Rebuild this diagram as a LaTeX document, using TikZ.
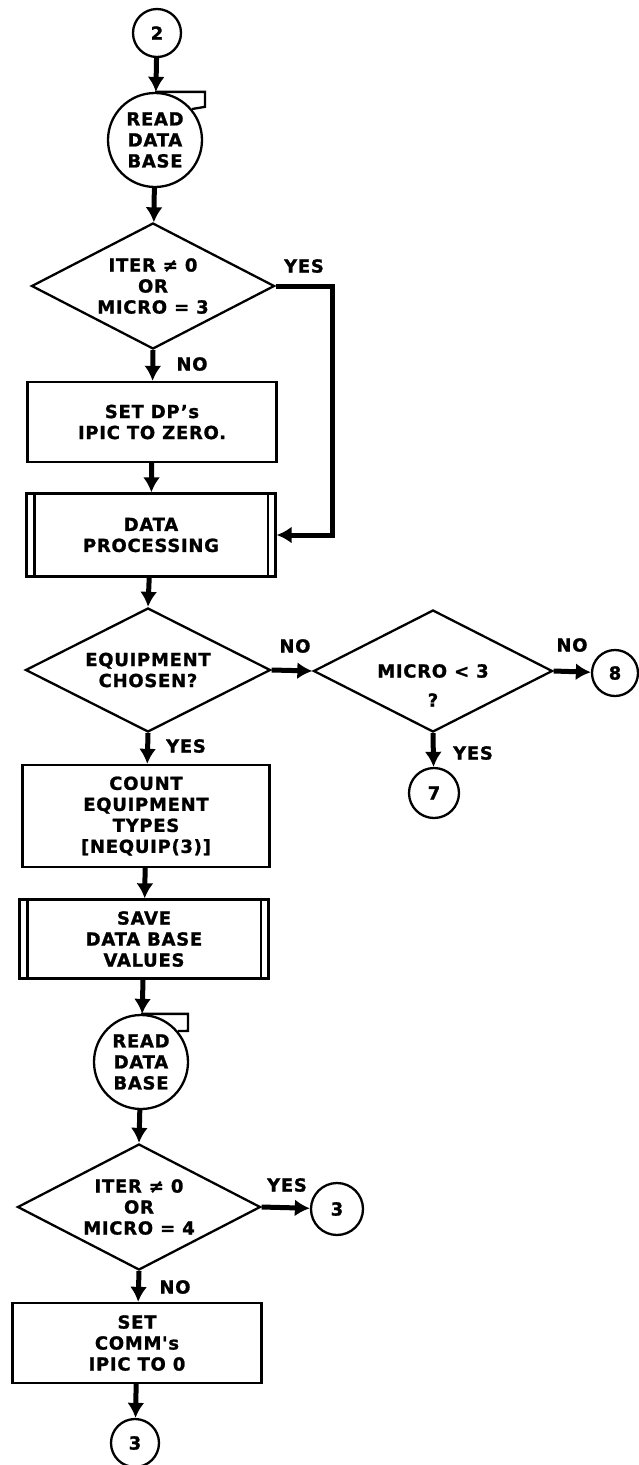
\documentclass[tikz,border=0pt]{standalone}
\usepackage{fontspec}
\newfontfamily\flowfont[LetterSpace=4,BoldFeatures={FakeBold=1.2}]{DejaVu Sans}
\usetikzlibrary{shapes.geometric,arrows.meta}

\begin{document}
\begin{tikzpicture}[x=1pt,y=-1pt,>={Latex[length=15pt,width=17pt]},
  font=\flowfont\bfseries\fontsize{18}{21}\selectfont,
  conn/.style={circle,draw,line width=2.3pt,minimum size=48pt,inner sep=0pt},
  readdb/.style={circle,draw,line width=2.3pt,minimum size=94pt,inner sep=0pt,align=center},
  decide/.style={diamond,aspect=2,draw,line width=2.3pt,inner sep=0pt,align=center,minimum width=243pt,minimum height=126pt},
  proc/.style={rectangle,draw,line width=2.3pt,inner sep=0pt,align=center,minimum width=249pt,minimum height=80pt},
  flow/.style={->,line width=5pt}]
 \useasboundingbox (0,0) rectangle (638,1465);

 \node[conn] (c2) at (157,33) {2};
 \node[readdb] (rd1) at (155,140) {READ\\DATA\\BASE};
 \draw[line width=2.3pt] (rd1.north) -- ++(50,0) -- ++(0,15) -- (rd1.40);
 \node[decide] (d1) at (153,286) {ITER ≠ 0\\OR\\MICRO = 3};
 \node[proc] (setdp) at (152,422) {SET DP’s\\IPIC TO ZERO.};
 \node[proc,minimum height=83pt] (dp) at (151,535) {DATA\\PROCESSING};
 \node[decide,minimum width=245pt,minimum height=124pt] (equip) at (148,670) {EQUIPMENT\\CHOSEN?};
 \node[decide,minimum width=239pt,minimum height=122pt,label={[yshift=-29pt]center:?}] (micro) at (433,671) {MICRO < 3};
 \node[conn,minimum size=46pt] (c8) at (615,673) {8};
 \node[conn,minimum size=50pt] (c7) at (434,793) {7};
 \node[proc,minimum width=247pt,minimum height=102pt] (count) at (146,816) {COUNT\\EQUIPMENT\\TYPES\\{[NEQUIP(3)]}};
 \node[proc,minimum height=79pt] (save) at (144,939) {SAVE\\DATA BASE\\VALUES};
 \node[readdb] (rd2) at (141,1062) {READ\\DATA\\BASE};
 \draw[line width=2.3pt] (rd2.north) -- ++(47,0) -- ++(0,17) -- (rd2.40);
 \node[decide] (d2) at (139,1207) {ITER ≠ 0\\OR\\MICRO = 4};
 \node[conn,minimum size=52pt] (c3a) at (337,1209) {3};
 \node[proc] (comm) at (137,1343) {SET\\COMM's\\IPIC TO 0};
 \node[conn] (c3b) at (135,1443) {3};

 % double sides of the predefined processes
 \foreach \n in {dp,save} {
  \draw[line width=2.3pt] ([xshift=9pt]\n.north west) -- ([xshift=9pt]\n.south west);
  \draw[line width=2.3pt] ([xshift=-9pt]\n.north east) -- ([xshift=-9pt]\n.south east);
 }

 \node (yes1) at (304,266) {YES};
 \node (no1) at (192,364) {NO};
 \node (no2) at (295,646) {NO};
 \node (yes2) at (186,746) {YES};
 \node (no3) at (572,645) {NO};
 \node (yes3) at (473,753) {YES};
 \node (yes4) at (287,1185) {YES};
 \node (no4) at (175,1287) {NO};

 \draw[flow] (c2) -- (rd1);
 \draw[flow] (rd1) -- (d1);
 \draw[flow] (d1.south) -- (setdp);
 \draw[flow] (d1.east) -- ++(57,0) |- (dp.east);
 \draw[flow] (setdp) -- (dp);
 \draw[flow] (dp) -- (equip.north);
 \draw[flow] (equip.east) -- (micro.west);
 \draw[flow] (micro.east) -- (c8);
 \draw[flow] (micro.south) -- (c7);
 \draw[flow] (equip.south) -- (count);
 \draw[flow] (count) -- (save);
 \draw[flow] (save) -- (rd2);
 \draw[flow] (rd2) -- (d2.north);
 \draw[flow] (d2.east) -- (c3a);
 \draw[flow] (d2.south) -- (comm);
 \draw[flow] (comm) -- (c3b);
\end{tikzpicture}
\end{document}
